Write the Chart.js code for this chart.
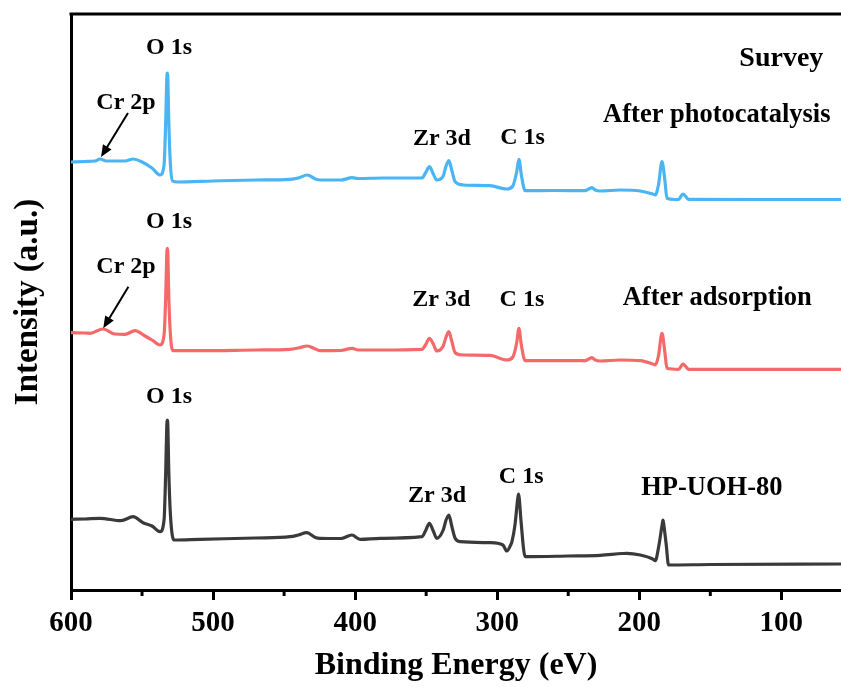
<!DOCTYPE html>
<html>
<head>
<meta charset="utf-8">
<script src="https://cdn.jsdelivr.net/npm/chart.js@4.4.1/dist/chart.umd.min.js"></script>
<style>
  body { margin: 0; background: #fff; }
  canvas { display: block; }
</style>
</head>
<body>
<canvas id="grafico" width="841" height="687"></canvas>
<script>
// Energia de ligação (eV) e intensidade (u.a.)
const fotoEnergia = [600, 590, 583, 579.6, 575, 562, 556.3, 550, 543, 537.3, 534.5, 533.3, 532.6, 532.2, 531.8, 531.2, 530, 528.5, 525, 500, 470, 446, 440, 433.6, 428, 424.6, 410, 402.1, 398, 380, 353, 350.5, 347.7, 345, 342.5, 338, 336, 334, 332, 329.6, 323.7, 305, 293.2, 289, 286.3, 284.7, 283, 280.3, 260, 238, 235.5, 233.3, 231, 227.5, 213.4, 199.3, 190.5, 188.7, 186.5, 184, 182, 180.5, 175, 172.3, 169.2, 167, 165.3, 120, 58];
const fotoIntens = [428, 428.5, 429, 431, 429, 429, 431, 428, 422, 415, 425, 470, 510, 517, 510, 470, 425, 409, 408, 409, 410, 410.7, 412, 415, 411, 410, 410, 412.3, 411.5, 412, 412, 417, 423.3, 416, 410, 414, 424, 429.3, 420, 408.3, 405, 404.3, 401, 404, 418, 430.7, 415, 399.3, 399.5, 399.3, 401, 402.3, 400, 399, 400, 399, 396, 395, 405, 428.3, 410, 391.7, 390.5, 390.7, 396, 393, 390.7, 390.5, 390.5];

const adsEnergia = [600, 590.1, 586.6, 577.5, 569, 562, 554.9, 547.9, 543, 537.3, 534.5, 533.3, 532.6, 532.2, 531.8, 531.2, 530, 528.2, 509.2, 470, 445.8, 440, 433.6, 428, 424.6, 410, 402.1, 398, 382.4, 353, 350.5, 347.7, 345, 342.5, 338, 336, 334, 332, 329.6, 323.7, 305, 293.2, 289, 286.3, 284.7, 283, 280.3, 255.6, 238, 235.5, 233.3, 231, 227.5, 213.4, 199.3, 190.5, 188.7, 186.5, 184, 182, 180.5, 172.3, 169.2, 167, 165.3, 58];
const adsIntens = [257.3, 257, 256.7, 261, 256, 255.7, 259.3, 254, 250, 245, 255, 295, 335, 341.7, 335, 295, 255, 239.3, 239.3, 240, 240.7, 242, 244, 241, 239.3, 239.5, 241.7, 240, 240, 240.7, 245, 251.7, 246, 239, 244, 253, 258.3, 249, 237.3, 235, 234.7, 230, 233, 247, 261.7, 245, 229.3, 229.3, 229.3, 231, 232.3, 230, 229, 230, 229.3, 226, 225, 234, 256.7, 238, 221.7, 220.7, 226, 223, 220.7, 220.7];

const hpEnergia = [600, 590, 579.6, 564.8, 556.3, 549.3, 543, 537.3, 534.5, 533.3, 532.6, 532.2, 531.8, 531.2, 530, 527.5, 509.2, 470, 445.8, 440, 434, 428, 424.6, 410, 402.3, 396.5, 382.4, 353, 350.5, 347.7, 345, 342.5, 338, 336, 334, 332, 329.6, 326.1, 305, 296, 293.2, 290.5, 289.6, 287.5, 285.5, 285, 284.5, 283.3, 280.3, 250, 227.5, 212, 208.7, 199.3, 190.5, 188.7, 186.5, 183.7, 183.3, 182.9, 181, 179.4, 150, 58];
const hpIntens = [70.7, 71, 71.7, 69.3, 73.3, 67.3, 64, 58.3, 70, 120, 163, 170, 163, 120, 75, 50, 50.7, 52, 53.3, 55, 57.3, 52.5, 51.7, 51.5, 55, 50.7, 51.7, 53.3, 59, 66.7, 59, 51.7, 60, 70, 75, 64, 51.7, 48.3, 47.3, 45, 39, 45, 48.3, 65, 92, 96, 92, 70, 33.3, 34, 34.7, 36.5, 36.7, 35, 31, 29.3, 42, 67, 70, 67, 45, 25, 25.5, 26];

// Rótulos dos eixos
const ticksX = [600, 500, 400, 300, 200, 100];
const ticksMenores = [550, 450, 350, 250, 150];

// Anotações: [texto, energia, intensidade, tamanho]
const rotulos = [
  ["O 1s", 531, 542, 24], ["Cr 2p", 561.3, 487, 24], ["Zr 3d", 338.9, 451.7, 24], ["C 1s", 282.2, 452, 24],
  ["After photocatalysis", 145.4, 474.4, 26.5], ["Survey", 100, 531.3, 28],
  ["O 1s", 531, 368, 24], ["Cr 2p", 561.3, 323.3, 24], ["Zr 3d", 339.4, 290, 24], ["C 1s", 282.6, 290, 24],
  ["After adsorption", 145.1, 291.7, 26.5],
  ["O 1s", 531, 193, 24], ["Zr 3d", 342.3, 94, 24], ["C 1s", 283.1, 113.4, 24], ["HP-UOH-80", 148.9, 101.7, 26.5]
];
// Setas: [energia inicial, intensidade inicial, energia final, intensidade final]
const setas = [
  [559.9, 477, 578.9, 433],
  [559.6, 303.3, 577.3, 261.7]
];

function pontos(energia, intens) {
  let lista = [];
  for (let i = 0; i < energia.length; i++) {
    lista.push({ x: energia[i], y: intens[i] });
  }
  return lista;
}

const fonte = "'Liberation Serif', 'Times New Roman', serif";

// Plugin pra desenhar moldura, ticks menores, textos e setas
const extras = {
  id: "extras",
  afterDraw(chart) {
    const ctx = chart.ctx;
    const area = chart.chartArea;
    const sx = chart.scales.x;
    const sy = chart.scales.y;
    ctx.save();
    ctx.strokeStyle = "#000";
    ctx.lineWidth = 3;
    ctx.beginPath();
    ctx.moveTo(area.left - 1.5, area.top);
    ctx.lineTo(area.right, area.top);
    ctx.stroke();

    ctx.lineWidth = 3;
    for (let i = 0; i < ticksMenores.length; i++) {
      let px = sx.getPixelForValue(ticksMenores[i]);
      ctx.beginPath();
      ctx.moveTo(px, area.bottom);
      ctx.lineTo(px, area.bottom + 6);
      ctx.stroke();
    }

    ctx.fillStyle = "#000";
    ctx.textAlign = "center";
    ctx.textBaseline = "middle";
    for (let i = 0; i < rotulos.length; i++) {
      let r = rotulos[i];
      ctx.font = "bold " + r[3] + "px " + fonte;
      ctx.fillText(r[0], sx.getPixelForValue(r[1]), sy.getPixelForValue(r[2]));
    }

    ctx.lineWidth = 2;
    for (let i = 0; i < setas.length; i++) {
      let s = setas[i];
      let x1 = sx.getPixelForValue(s[0]), y1 = sy.getPixelForValue(s[1]);
      let x2 = sx.getPixelForValue(s[2]), y2 = sy.getPixelForValue(s[3]);
      let ang = Math.atan2(y2 - y1, x2 - x1);
      ctx.beginPath();
      ctx.moveTo(x1, y1);
      ctx.lineTo(x2 - 8 * Math.cos(ang), y2 - 8 * Math.sin(ang));
      ctx.stroke();
      ctx.beginPath();
      ctx.moveTo(x2, y2);
      ctx.lineTo(x2 - 12 * Math.cos(ang) + 5 * Math.sin(ang), y2 - 12 * Math.sin(ang) - 5 * Math.cos(ang));
      ctx.lineTo(x2 - 12 * Math.cos(ang) - 5 * Math.sin(ang), y2 - 12 * Math.sin(ang) + 5 * Math.cos(ang));
      ctx.closePath();
      ctx.fill();
    }
    ctx.restore();
  }
};

const ctx = document.getElementById("grafico").getContext("2d");
new Chart(ctx, {
  type: "line",
  data: {
    datasets: [
      { label: "After photocatalysis", data: pontos(fotoEnergia, fotoIntens), borderColor: "#4BB5F3" },
      { label: "After adsorption", data: pontos(adsEnergia, adsIntens), borderColor: "#F46A6A" },
      { label: "HP-UOH-80", data: pontos(hpEnergia, hpIntens), borderColor: "#3A3A3A" }
    ]
  },
  options: {
    responsive: false,
    animation: false,
    layout: { padding: { top: 14, left: 0, right: 0, bottom: 0 } },
    elements: {
      point: { radius: 0 },
      line: { borderWidth: 3.2, cubicInterpolationMode: "monotone" }
    },
    plugins: {
      legend: { display: false },
      tooltip: { enabled: false }
    },
    scales: {
      x: {
        type: "linear",
        reverse: true,
        min: 58,
        max: 600,
        afterBuildTicks: function (scale) {
          scale.ticks = ticksX.map(function (v) { return { value: v }; });
        },
        afterFit: function (scale) { scale.height = 97; },
        ticks: {
          color: "#000",
          padding: 6,
          maxRotation: 0,
          font: { family: fonte, size: 29, weight: "bold" }
        },
        grid: { drawOnChartArea: false, tickLength: 10, tickWidth: 3, tickColor: "#000" },
        border: { color: "#000", width: 3 },
        title: {
          display: true,
          text: "Binding Energy (eV)",
          color: "#000",
          padding: { top: 0, bottom: 2 },
          font: { family: fonte, size: 32, weight: "bold" }
        }
      },
      y: {
        min: 0,
        max: 576,
        afterFit: function (scale) { scale.width = 71; },
        ticks: { display: false },
        grid: { display: false },
        border: { color: "#000", width: 3 },
        title: {
          display: true,
          text: "Intensity (a.u.)",
          color: "#000",
          padding: { top: 9, bottom: 0 },
          font: { family: fonte, size: 33, weight: "bold" }
        }
      }
    }
  },
  plugins: [extras]
});
</script>
</body>
</html>
